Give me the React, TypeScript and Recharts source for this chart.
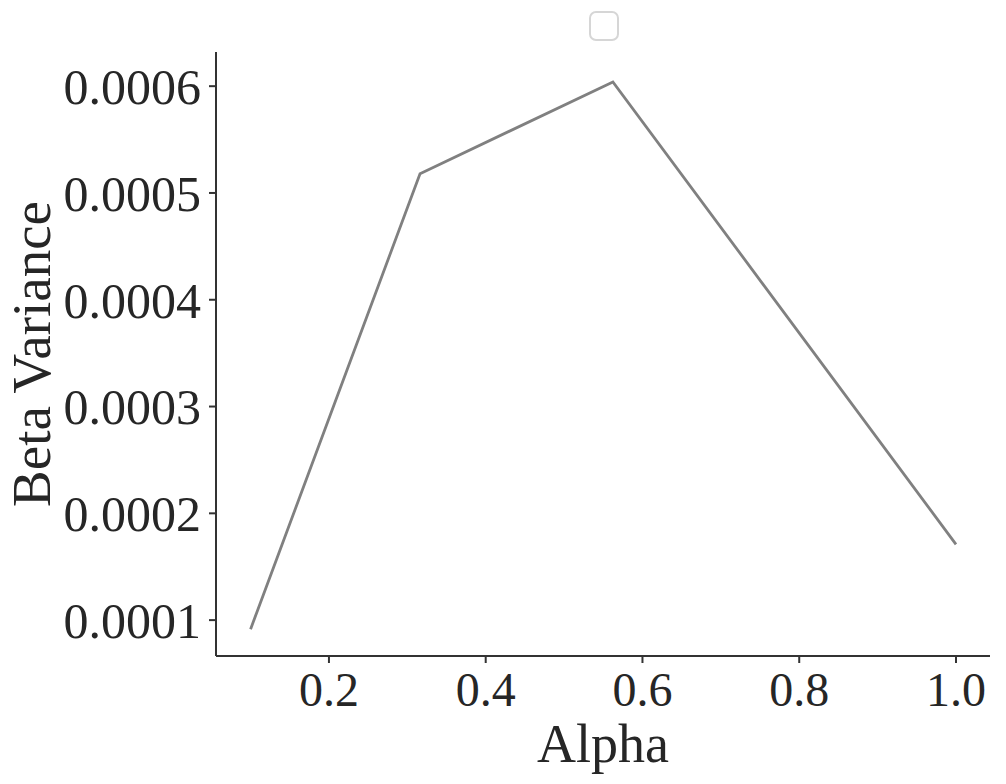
import React from 'react';
import { LineChart, Line, XAxis, YAxis } from 'recharts';

const alphas = [0.1, 0.3162, 0.5623, 1.0];
const betaVariance = [0.0000915, 0.000518, 0.000604, 0.000171];
const xTicks = [0.2, 0.4, 0.6, 0.8, 1.0];
const yTicks = [0.0001, 0.0002, 0.0003, 0.0004, 0.0005, 0.0006];

const data = alphas.map((a, i) => ({ alpha: a, beta: betaVariance[i] }));

const FONT = '"Liberation Serif", "DejaVu Serif", serif';
const TEXT = '#262626';
const AXIS = '#333333';

const YLabel = (props: any) => {
  const vb = props.viewBox || {};
  const cy = vb.y + vb.height / 2;
  const x = 50;
  return (
    <text
      x={x}
      y={cy}
      transform={`rotate(-90, ${x}, ${cy})`}
      textAnchor="middle"
      fontFamily={FONT}
      fontSize={55}
      fill={TEXT}
    >
      Beta Variance
    </text>
  );
};

export default function App() {
  return (
    <div style={{ position: 'absolute', left: 0, top: 0, width: 1006, height: 784, background: '#fff' }}>
      <LineChart
        width={1006}
        height={784}
        data={data}
        margin={{ top: 52, right: 16, left: 0, bottom: 0 }}
      >
        <XAxis
          dataKey="alpha"
          type="number"
          domain={[0.0559, 1.0434]}
          allowDataOverflow
          ticks={xTicks}
          tickFormatter={(v: number) => v.toFixed(1)}
          height={128}
          tickSize={7}
          tickMargin={9}
          stroke={AXIS}
          strokeWidth={2}
          tick={{ fontFamily: FONT, fontSize: 48, fill: TEXT }}
          label={{ value: 'Alpha', position: 'insideBottom', offset: 22, fontFamily: FONT, fontSize: 54, fill: TEXT }}
        />
        <YAxis
          type="number"
          domain={[0.0000664, 0.000632]}
          allowDataOverflow
          ticks={yTicks}
          tickFormatter={(v: number) => v.toFixed(4)}
          width={216}
          tickSize={7}
          tickMargin={8}
          stroke={AXIS}
          strokeWidth={2}
          tick={{ fontFamily: FONT, fontSize: 50, fill: TEXT }}
          label={<YLabel />}
        />
        <Line
          type="linear"
          dataKey="beta"
          stroke="#808080"
          strokeWidth={2.8}
          dot={false}
          isAnimationActive={false}
        />
      </LineChart>
      <div
        style={{
          position: 'absolute',
          left: 589,
          top: 11,
          width: 26,
          height: 26,
          border: '2px solid #d6d6d6',
          borderRadius: 7,
          boxSizing: 'content-box',
        }}
      />
    </div>
  );
}
